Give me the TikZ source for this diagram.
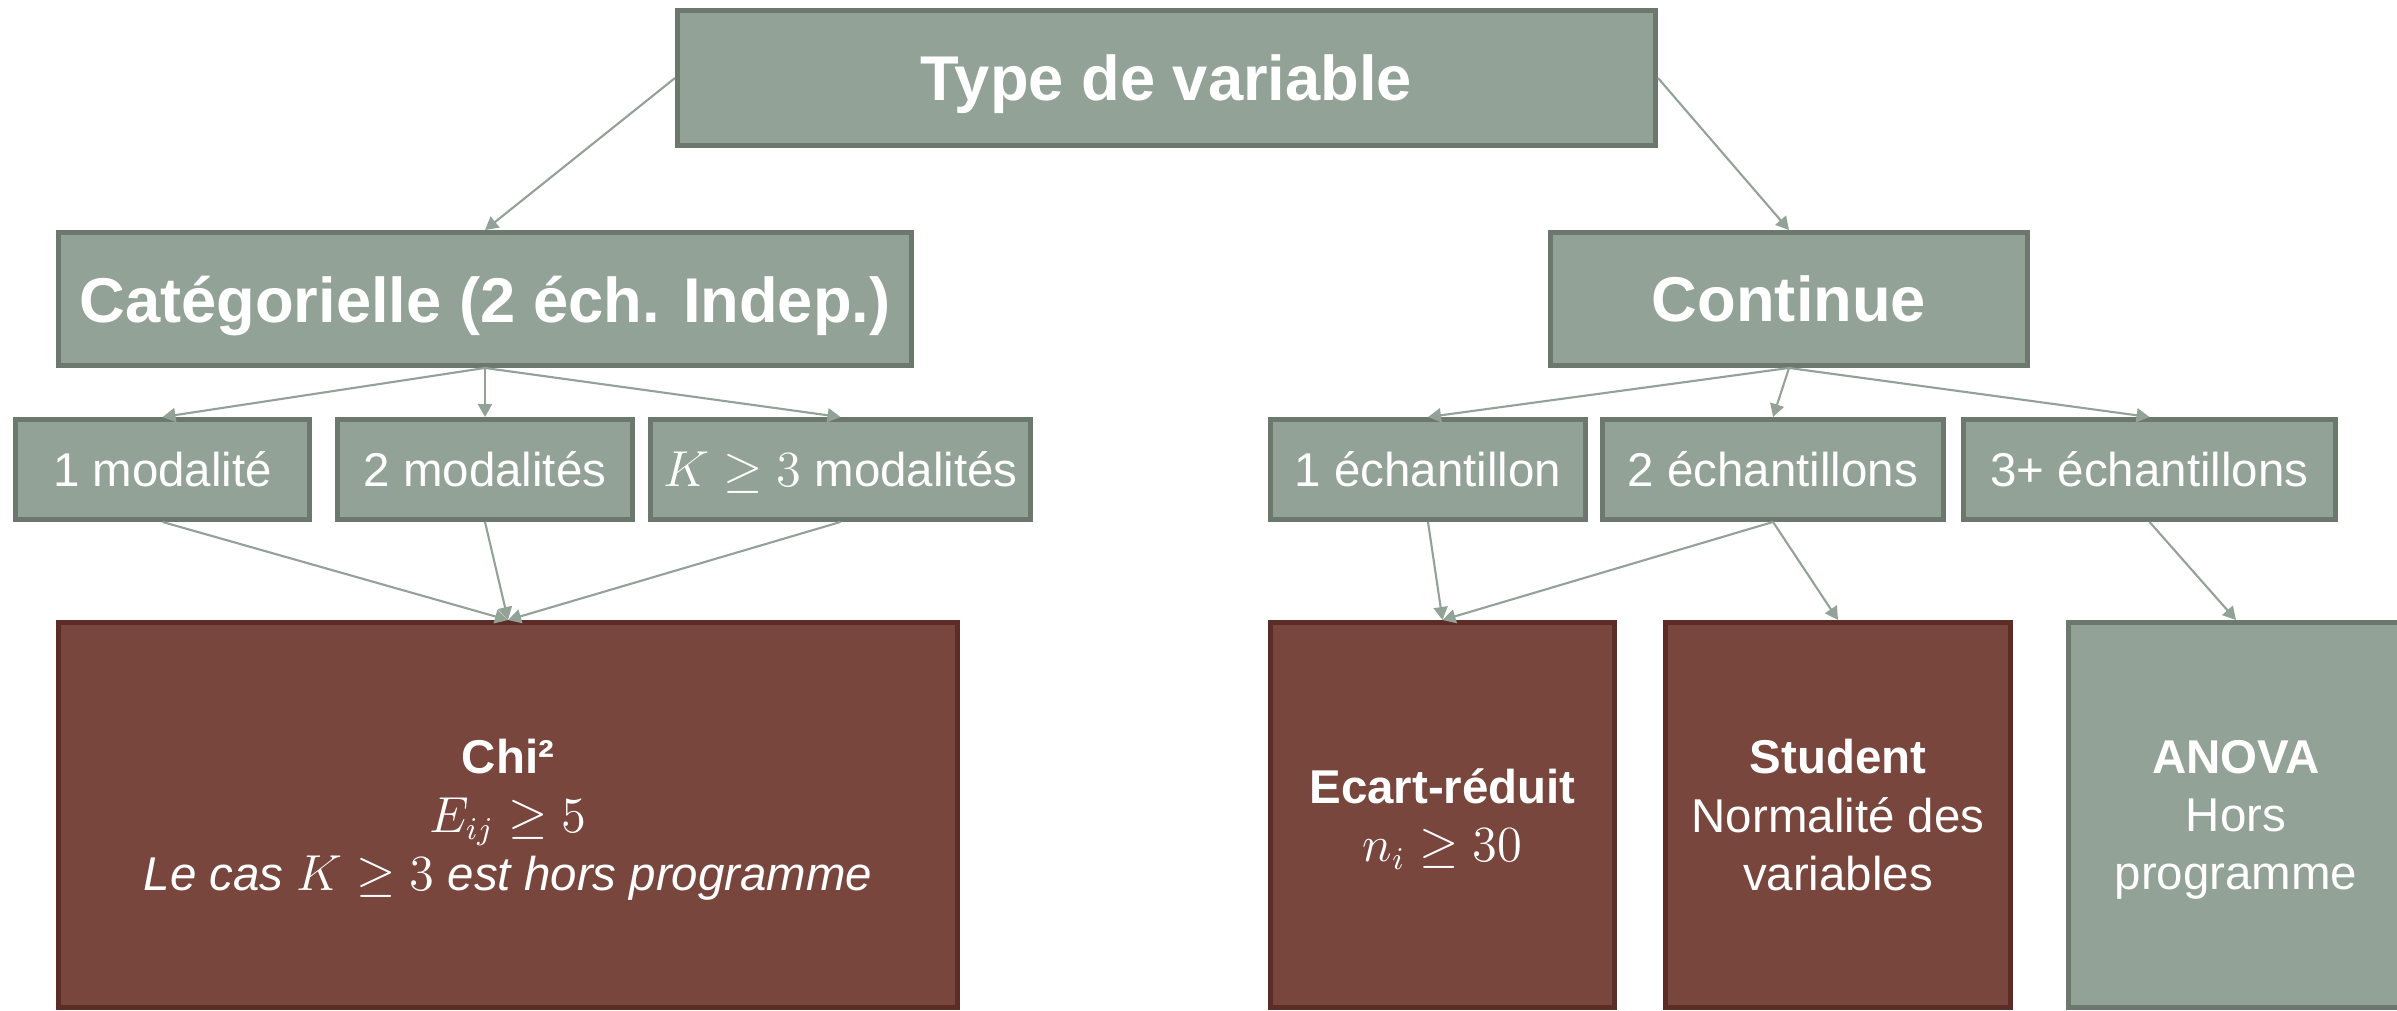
\documentclass[tikz,border=0pt]{standalone}
\usepackage{fontspec}
\setmainfont{Liberation Sans}
\usetikzlibrary{arrows.meta}
\definecolor{grisfond}{RGB}{147,162,151}
\definecolor{grisbord}{RGB}{108,120,110}
\definecolor{brunfond}{RGB}{120,70,61}
\definecolor{brunbord}{RGB}{92,45,38}
\begin{document}
\begin{tikzpicture}
\tikzstyle{every node}=[draw,rectangle,line width=1.4pt,text=white,align=center,inner sep=0pt,text depth=0pt,font=\fontsize{13.5}{16.6}\selectfont]
\tikzstyle{gris}=[fill=grisfond,draw=grisbord]
\tikzstyle{brun}=[fill=brunfond,draw=brunbord]
\tikzstyle{titre}=[font=\bfseries\fontsize{18}{21.6}\selectfont]
\tikzstyle{bloc}=[minimum height=3.85cm,text depth=-0.14cm]
\tikzstyle{fleche}=[-{Triangle[length=0.13cm,width=0.14cm]},draw=grisfond,line width=0.6pt]
\useasboundingbox (0,0) rectangle (23.97,-10.11);
\clip (0,0) rectangle (23.97,-10.11);
% niveau 1
\node[gris,titre,minimum width=9.78cm,minimum height=1.35cm](t0) at (11.665,-0.78) {Type de variable};
\node[gris,titre,minimum width=8.53cm,minimum height=1.33cm](c0) at (4.85,-2.99) {Catégorielle (2 éch. Indep.)};
\node[gris,titre,minimum width=4.77cm,minimum height=1.33cm](c1) at (17.89,-2.99) {Continue};
% niveau 2
\node[gris,minimum width=2.94cm,minimum height=1cm](m0) at (1.625,-4.695) {1 modalité};
\node[gris,minimum width=2.95cm,minimum height=1cm](m1) at (4.85,-4.695) {2 modalités};
\node[gris,minimum width=3.80cm,minimum height=1cm](m2) at (8.405,-4.695) {$K \geq 3$ modalités};
\node[gris,minimum width=3.15cm,minimum height=1cm](e0) at (14.28,-4.695) {1 échantillon};
\node[gris,minimum width=3.41cm,minimum height=1cm](e1) at (17.73,-4.695) {2 échantillons};
\node[gris,minimum width=3.72cm,minimum height=1cm](e2) at (21.495,-4.695) {3+ échantillons};
% tests
\node[brun,bloc,minimum width=8.99cm](r0) at (5.08,-8.15) {\textbf{Chi²}\\ $E_{ij} \geq 5$\\ \textit{Le cas $K \geq 3$ est hors programme}};
\node[brun,bloc,minimum width=3.44cm](r1) at (14.425,-8.15) {\textbf{Ecart-réduit}\\ $n_i \geq 30$};
\node[brun,bloc,minimum width=3.45cm](r2) at (18.38,-8.15) {\textbf{Student}\\ Normalité des\\ variables};
\node[gris,bloc,minimum width=3.35cm](r3) at (22.36,-8.15) {\textbf{ANOVA}\\ Hors\\ programme};
% fleches
\draw[fleche] (t0.west) -- (c0.north);
\draw[fleche] (t0.east) -- (c1.north);
\draw[fleche] (c0.south) -- (m0.north);
\draw[fleche] (c0.south) -- (m1.north);
\draw[fleche] (c0.south) -- (m2.north);
\draw[fleche] (m0.south) -- (r0.north);
\draw[fleche] (m1.south) -- (r0.north);
\draw[fleche] (m2.south) -- (r0.north);
\draw[fleche] (c1.south) -- (e0.north);
\draw[fleche] (c1.south) -- (e1.north);
\draw[fleche] (c1.south) -- (e2.north);
\draw[fleche] (e0.south) -- (r1.north);
\draw[fleche] (e1.south) -- (r1.north);
\draw[fleche] (e1.south) -- (r2.north);
\draw[fleche] (e2.south) -- (r3.north);
\end{tikzpicture}
\end{document}
